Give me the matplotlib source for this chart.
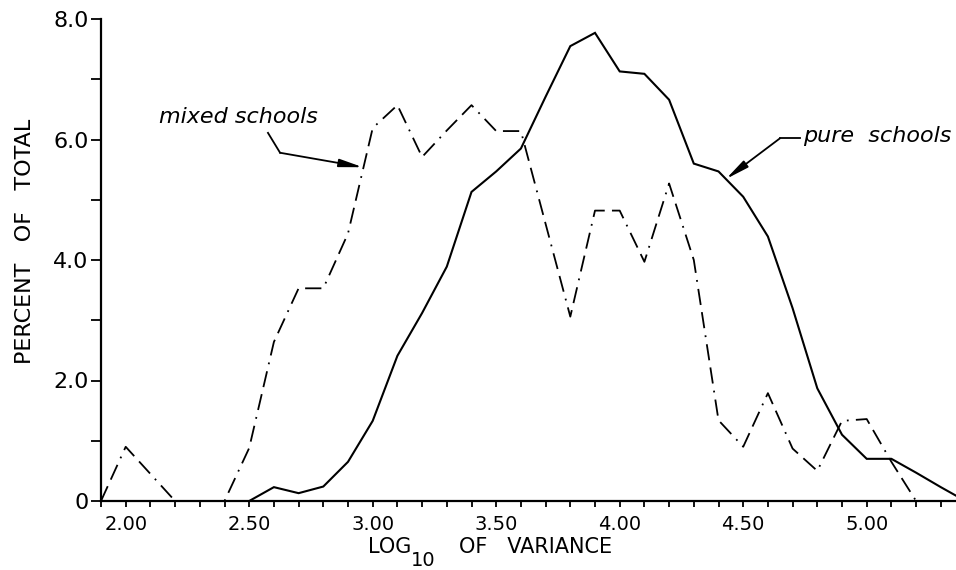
"""Distribution of log10 variance for pure and mixed schools."""

import matplotlib.pyplot as plt
import numpy as np
from matplotlib.ticker import FixedLocator, MultipleLocator

# bin centres (log10 of variance) and percent of total in each bin
x_pure = [2.5, 2.6, 2.7, 2.8, 2.9, 3.0, 3.1, 3.2, 3.3, 3.4,
          3.5, 3.6, 3.7, 3.8, 3.9, 4.0, 4.1, 4.2, 4.3, 4.4,
          4.5, 4.6, 4.7, 4.8, 4.9, 5.0, 5.1, 5.2, 5.3, 5.4]
pure = [0.0, 0.23, 0.13, 0.24, 0.65, 1.33, 2.41, 3.12, 3.89, 5.13,
        5.47, 5.85, 6.71, 7.55, 7.77, 7.13, 7.09, 6.66, 5.60, 5.47,
        5.05, 4.39, 3.20, 1.87, 1.10, 0.70, 0.70, 0.47, 0.23, 0.0]

x_mixed = [1.9, 2.0, 2.1, 2.2, 2.3, 2.4, 2.5, 2.6, 2.7, 2.8,
           2.9, 3.0, 3.1, 3.2, 3.3, 3.4, 3.5, 3.6, 3.7, 3.8,
           3.9, 4.0, 4.1, 4.2, 4.3, 4.4, 4.5, 4.6, 4.7, 4.8,
           4.9, 5.0, 5.1, 5.2]
mixed = [0.0, 0.90, 0.45, 0.0, 0.0, 0.0, 0.88, 2.64, 3.53, 3.53,
         4.44, 6.19, 6.57, 5.71, 6.15, 6.57, 6.14, 6.14, 4.60, 3.06,
         4.82, 4.82, 3.97, 5.27, 4.00, 1.34, 0.90, 1.79, 0.87, 0.50,
         1.33, 1.36, 0.65, 0.0]

x_ticks = [2.0, 2.5, 3.0, 3.5, 4.0, 4.5, 5.0]
x_tick_labels = ["2.00", "2.50", "3.00", "3.50", "4.00", "4.50", "5.00"]
y_ticks = [0, 2, 4, 6, 8]
y_tick_labels = ["0", "2.0", "4.0", "6.0", "8.0"]

W, H = 956, 570
plt.rcParams["font.family"] = ["DejaVu Sans"]

fig = plt.figure(figsize=(W / 100, H / 100), dpi=100)
ax = fig.add_axes([101 / W, 69 / H, 855 / W, 482 / H])


def fx(px):
    return px / W


def fy(py):
    return 1 - py / H


ax.plot(x_pure, pure, color="black", lw=1.5, solid_joinstyle="miter")
ax.plot(x_mixed, mixed, color="black", lw=1.3,
        dashes=(9, 4, 9, 4, 1.0, 4))

ax.set_xlim(1.9, 1.9 + 855 / 247)
ax.set_ylim(0, 8)

for side in ("top", "right"):
    ax.spines[side].set_visible(False)
for side in ("left", "bottom"):
    ax.spines[side].set_linewidth(1.6)

ax.xaxis.set_major_locator(FixedLocator(x_ticks))
ax.set_xticklabels(x_tick_labels, fontsize=14)
ax.xaxis.set_minor_locator(MultipleLocator(0.1))
ax.yaxis.set_major_locator(FixedLocator(y_ticks))
ax.set_yticklabels(y_tick_labels, fontsize=16)
ax.yaxis.set_minor_locator(MultipleLocator(1))
ax.tick_params(axis="x", which="both", direction="out", length=4, width=1.3, pad=6)
ax.tick_params(axis="y", which="both", direction="out", length=7, width=1.3, pad=2)

# axis titles
fig.text(fx(25), fy(241), "PERCENT   OF   TOTAL", rotation=90,
         ha="center", va="center", fontsize=16)
fig.text(fx(368), fy(547), "LOG", ha="left", va="center", fontsize=15)
fig.text(fx(411), fy(561), "10", ha="left", va="center", fontsize=14)
fig.text(fx(459), fy(547), "OF   VARIANCE", ha="left", va="center", fontsize=15)

# curve labels with leader arrows
arrow = dict(arrowstyle="-|>,head_length=0.7,head_width=0.12",
             color="black", lw=1.3, shrinkA=0, shrinkB=0, mutation_scale=20)

ax.text(2.135, 6.27, "mixed schools", style="italic", fontsize=16,
        ha="left", va="baseline")
tip_m = 2.96
ax.plot([2.576, 2.625], [6.11, 5.78], color="black", lw=1.3)
ax.annotate("", xy=(tip_m, np.interp(tip_m, x_mixed, mixed) + 0.05),
            xytext=(2.625, 5.78), arrowprops=arrow)

ax.text(4.741, 5.96, "pure  schools", style="italic", fontsize=16,
        ha="left", va="baseline", clip_on=False)
tip_p = 4.43
ax.plot([4.649, 4.73], [6.02, 6.02], color="black", lw=1.3)
ax.annotate("", xy=(tip_p, np.interp(tip_p, x_pure, pure)),
            xytext=(4.649, 6.02), arrowprops=arrow)

fig.savefig("out.png", dpi=100, facecolor="white")
